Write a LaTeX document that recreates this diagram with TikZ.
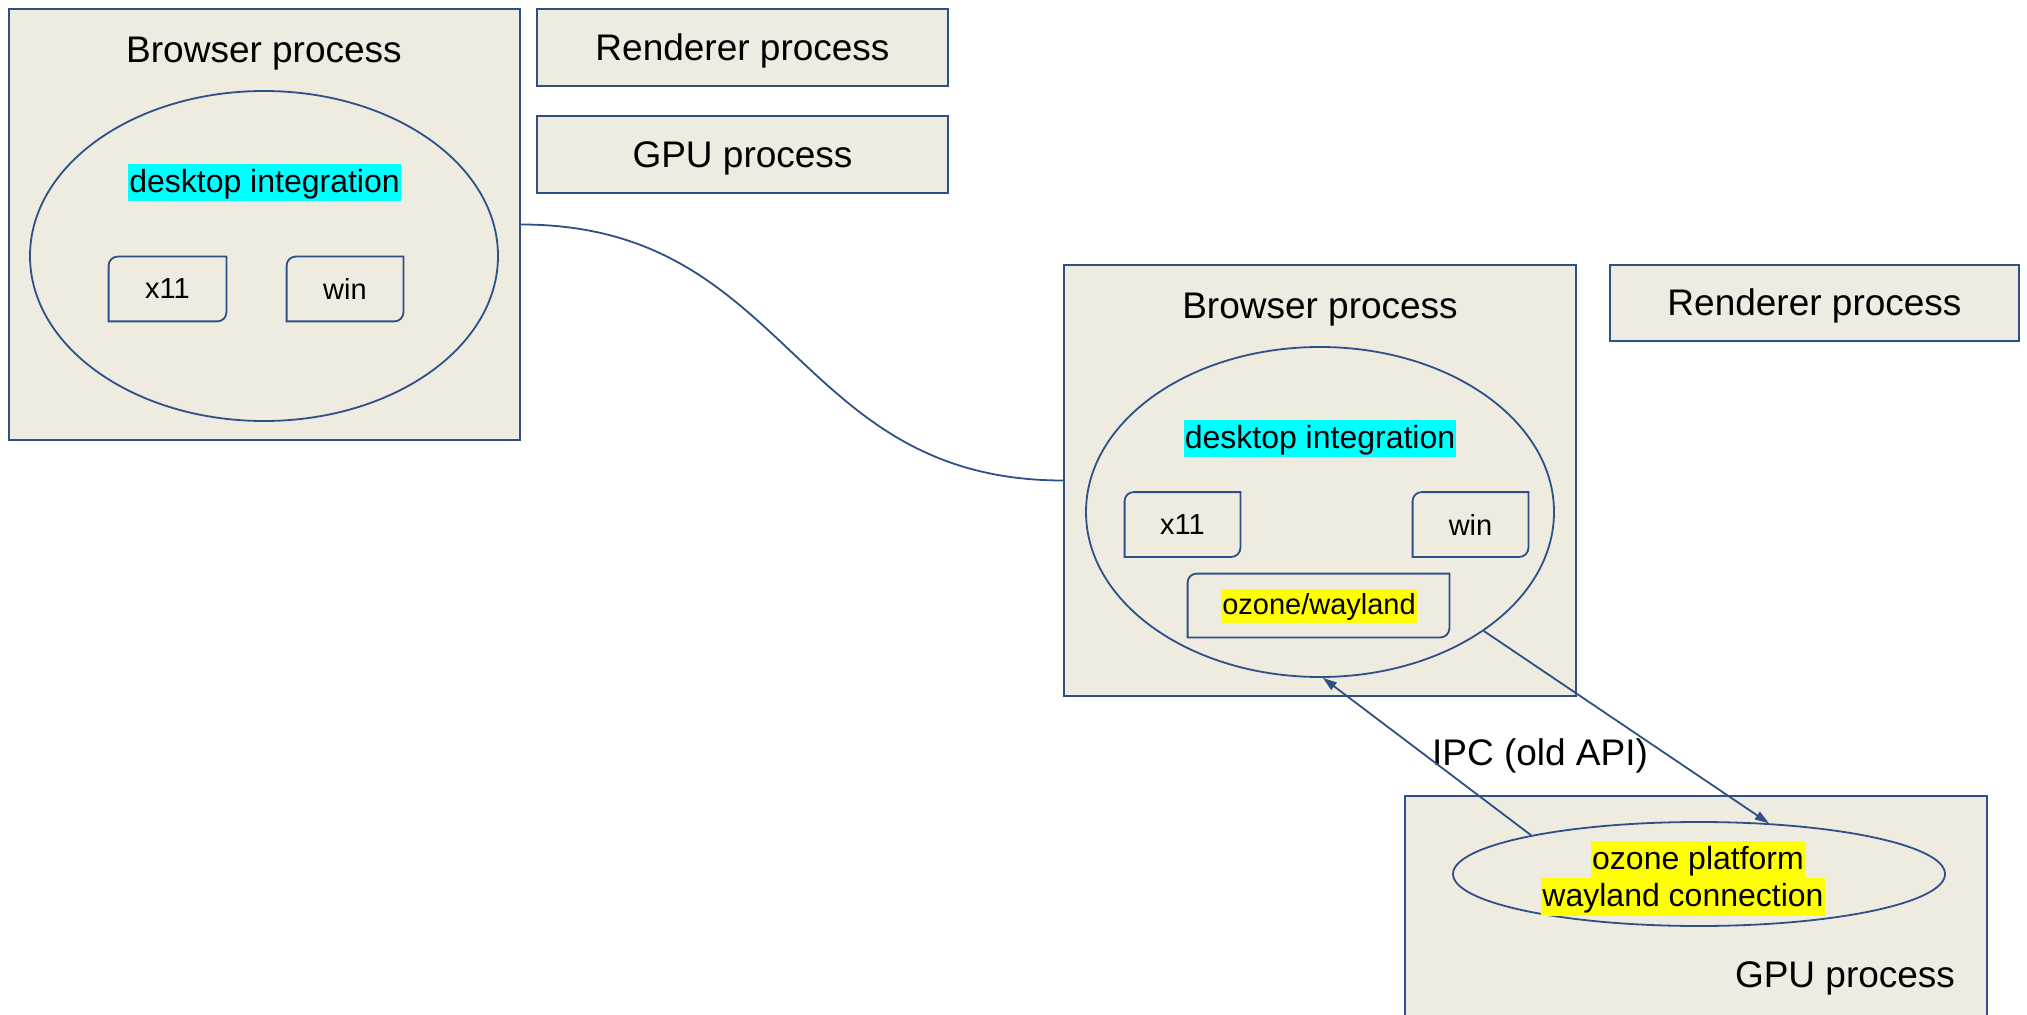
\documentclass[tikz,border=0pt]{standalone}
\usepackage{fontspec}
\setmainfont{Liberation Sans}
\usetikzlibrary{calc,arrows.meta,shapes.geometric}
\definecolor{lineblue}{HTML}{2F5086}
\definecolor{beige}{HTML}{EEEBE0}
\definecolor{hlcyan}{HTML}{00FFFF}
\definecolor{hlyellow}{HTML}{FFFF00}
\newcommand\hlstrut{\rule[-0.28em]{0pt}{1.16em}}
\newcommand\rdbox[1]{\draw[lineblue,line width=0.9pt] (#1.south west) -- ($(#1.north west)+(0pt,-4.5pt)$) arc[start angle=180,end angle=90,radius=4.5pt] -- (#1.north east) -- ($(#1.south east)+(0pt,4.5pt)$) arc[start angle=0,end angle=-90,radius=4.5pt] -- cycle;}
\tikzset{
  proc/.style={rectangle, draw=lineblue, fill=beige, line width=0.9pt, inner sep=0pt},
  ell/.style={ellipse, draw=lineblue, fill=beige, line width=0.9pt, inner sep=0pt},
  subbox/.style={rectangle, inner sep=0pt, font=\fontsize{14.5}{17}\selectfont},
  big/.style={inner sep=0pt, anchor=base, font=\fontsize{18.5}{22}\selectfont},
  hlc/.style={fill=hlcyan, inner xsep=0.6pt, inner ysep=0pt, font=\fontsize{16}{19}\selectfont},
  hly/.style={fill=hlyellow, inner xsep=0.6pt, inner ysep=0pt, font=\fontsize{16}{19}\selectfont},
  hlys/.style={fill=hlyellow, inner xsep=0.6pt, inner ysep=0pt, font=\fontsize{14.5}{17}\selectfont},
  conn/.style={draw=lineblue, line width=0.9pt},
  tip/.style={-{Triangle[length=7pt,width=4.5pt]}}
}
\begin{document}
\begin{tikzpicture}[x=0.5pt,y=-0.5pt]
\path[use as bounding box] (0,0) rectangle (2027,1015);
\clip (0,0) rectangle (2027,1015);

% left group
\node[proc, minimum width=255.5pt, minimum height=215.5pt] (box1) at (264.5,224.5) {};
\node[big] (t1) at (264,63) {Browser process};
\node[proc, minimum width=205.5pt, minimum height=38.5pt] (rend1) at (742.5,47.5) {};
\node[big] (rt1) at (742.5,61) {Renderer process};
\node[proc, minimum width=205.5pt, minimum height=38.5pt] (gpu1) at (742.5,154.5) {};
\node[big] (gt1) at (742.5,168) {GPU process};
\node[ell, minimum width=234pt, minimum height=165pt] (ell1) at (264,256) {};
\node[hlc] (di1) at (264.5,182.5) {\hlstrut desktop integration};
\node[subbox, minimum width=58.5pt, minimum height=32pt] (xa) at (167.5,289) {x11};
\rdbox{xa}
\node[subbox, minimum width=58pt, minimum height=32pt] (wa) at (345,289) {win};
\rdbox{wa}

% right group
\node[proc, minimum width=256pt, minimum height=215.5pt] (box2) at (1320,480.5) {};
\node[big] (t2) at (1320,319) {Browser process};
\node[proc, minimum width=204.5pt, minimum height=38pt] (rend2) at (1814.5,303) {};
\node[big] (rt2) at (1814.5,316) {Renderer process};
\node[ell, minimum width=234pt, minimum height=165pt] (ell2) at (1320,512) {};
\node[hlc] (di2) at (1320,438.5) {\hlstrut desktop integration};
\node[subbox, minimum width=57.5pt, minimum height=32pt] (xb) at (1182.5,524.5) {x11};
\rdbox{xb}
\node[subbox, minimum width=57.5pt, minimum height=32pt] (wb) at (1470.5,524.5) {win};
\rdbox{wb}
\node[subbox, minimum width=130.5pt, minimum height=31.5pt] (oz) at (1318.5,605.5) {};
\rdbox{oz}
\node[hlys] (ozt) at (1319,606) {\hlstrut ozone/wayland};

% GPU process (bottom)
\node[proc, minimum width=291pt, minimum height=122pt] (gpu2) at (1696,918) {};
\node[ell, minimum width=246pt, minimum height=52pt] (gell) at (1699,874) {};
\node[hly] (op) at (1698,859.5) {\hlstrut ozone platform};
\node[hly] (wc) at (1683,897) {\hlstrut wayland connection};
\node[big] (t3) at (1845,987) {GPU process};

\node[big] (ipc) at (1540,765) {IPC (old API)};

% curved connector
\coordinate (m) at ($(box1.east)!0.5!(box2.west)$);
\draw[conn] (box1.east) .. controls (m |- box1.east) and (m |- box2.west) .. (box2.west);

% arrows
\draw[conn, tip] (gell.167) -- (ell2.-89);
\draw[conn, tip] (ell2.-36) -- (gell.36);
\end{tikzpicture}
\end{document}
